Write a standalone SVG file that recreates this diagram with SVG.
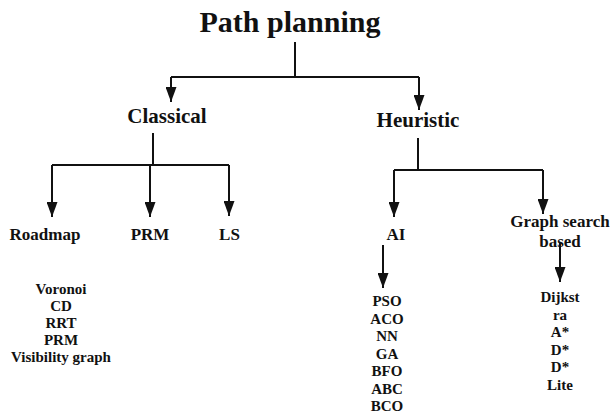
<svg xmlns="http://www.w3.org/2000/svg" width="613" height="418" viewBox="0 0 613 418">
<style>
text{font-weight:bold;fill:#111;text-anchor:middle}
.t1{font-size:30px}
.t2{font-size:21px}
.t3{font-size:17px}
.t4{font-size:15px}
.c{fill:none;stroke:#111;stroke-width:2}
</style>
<defs>
<marker id="ah" markerUnits="userSpaceOnUse" markerWidth="15" markerHeight="11" refX="15" refY="5.5" orient="auto" viewBox="0 0 15 11">
<path d="M0,0 L15,5.5 L0,11 z" fill="#111"/>
</marker>
</defs>
<rect width="613" height="418" fill="#fff"/>
<g id="connectors">
<path class="c" d="M295,42 V77"/>
<path class="c" d="M171,77 H419"/>
<path class="c" d="M171,77 V102" marker-end="url(#ah)"/>
<path class="c" d="M419,77 V110" marker-end="url(#ah)"/>
<path class="c" d="M153,133 V165"/>
<path class="c" d="M52,165 H229"/>
<path class="c" d="M52,165 V217" marker-end="url(#ah)"/>
<path class="c" d="M150,165 V217" marker-end="url(#ah)"/>
<path class="c" d="M229,165 V216" marker-end="url(#ah)"/>
<path class="c" d="M418,138 V170"/>
<path class="c" d="M394,170 H543"/>
<path class="c" d="M394,170 V217" marker-end="url(#ah)"/>
<path class="c" d="M543,170 V214" marker-end="url(#ah)"/>
<path class="c" d="M383,245 V288" marker-end="url(#ah)"/>
<path class="c" d="M560,243 V282" marker-end="url(#ah)"/>
</g>
<g font-family="'Liberation Serif', 'Times New Roman', 'DejaVu Serif', serif">
<g id="path-planning"><text class="t1" x="290" y="32">Path planning</text></g>
<g id="classical"><text class="t2" x="167" y="123">Classical</text></g>
<g id="heuristic"><text class="t2" x="418" y="127">Heuristic</text></g>
<g id="roadmap"><text class="t3" x="45" y="240">Roadmap</text></g>
<g id="prm"><text class="t3" x="150" y="240">PRM</text></g>
<g id="ls"><text class="t3" x="229.5" y="240">LS</text></g>
<g id="ai"><text class="t3" x="396" y="240">AI</text></g>
<g id="graph-search"><text class="t3" x="560" y="227">Graph search</text><text class="t3" x="560" y="247">based</text></g>
<g id="roadmap-list">
<text class="t4" x="61" y="294">Voronoi</text>
<text class="t4" x="61" y="311">CD</text>
<text class="t4" x="61" y="328">RRT</text>
<text class="t4" x="61" y="345">PRM</text>
<text class="t4" x="61" y="362">Visibility graph</text>
</g>
<g id="ai-list">
<text class="t4" x="387" y="306">PSO</text>
<text class="t4" x="387" y="323.5">ACO</text>
<text class="t4" x="387" y="341">NN</text>
<text class="t4" x="387" y="358.5">GA</text>
<text class="t4" x="387" y="376">BFO</text>
<text class="t4" x="387" y="393.5">ABC</text>
<text class="t4" x="387" y="411">BCO</text>
</g>
<g id="graph-list">
<text class="t4" x="560" y="302">Dijkst</text>
<text class="t4" x="560" y="319.5">ra</text>
<text class="t4" x="560" y="337">A*</text>
<text class="t4" x="560" y="354.5">D*</text>
<text class="t4" x="560" y="372">D*</text>
<text class="t4" x="560" y="389.5">Lite</text>
</g>
</g>
</svg>
